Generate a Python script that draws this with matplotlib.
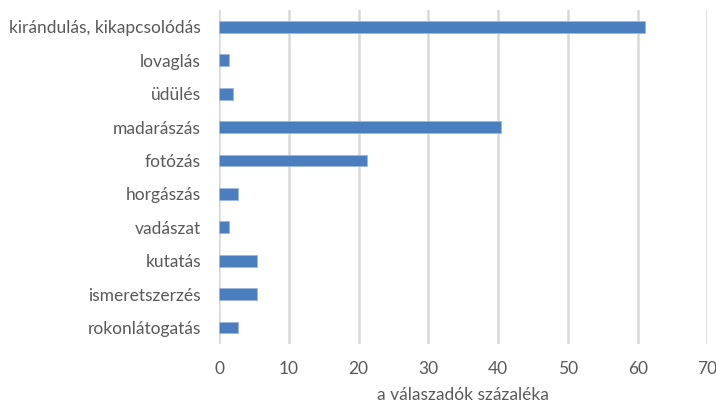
import numpy as np
import matplotlib.pyplot as plt

# Adatok (a válaszadók százaléka)
kategoriak = ['kirándulás, kikapcsolódás', 'lovaglás', 'üdülés', 'madarászás',
              'fotózás', 'horgászás', 'vadászat', 'kutatás', 'ismeretszerzés',
              'rokonlátogatás']
szazalek = [61.0, 1.4, 2.0, 40.4, 21.2, 2.7, 1.4, 5.4, 5.4, 2.7]
xtick_ertekek = [0, 10, 20, 30, 40, 50, 60, 70]

plt.rcParams['font.family'] = ['Lato', 'DejaVu Sans']

fig = plt.figure(figsize=(7.16, 4.05), dpi=100)
ax = fig.add_axes([0.306, 0.150, 0.682, 0.825])

y = np.arange(len(kategoriak))
ax.barh(y, szazalek, height=0.35, color='#4A7EBF', edgecolor='#9DB9DD',
        linewidth=0.6, zorder=3)

ax.set_ylim(len(kategoriak) - 0.5, -0.5)
ax.set_xlim(0, 70)
ax.set_yticks(y)
ax.set_yticklabels(kategoriak)
ax.set_xticks(xtick_ertekek)

ax.grid(axis='x', color='#d9d9d9', linewidth=1.8, zorder=0)
for s in ax.spines.values():
    s.set_visible(False)
ax.tick_params(axis='both', length=0, colors='#595959', labelsize=12.5)
ax.tick_params(axis='y', pad=13)
ax.tick_params(axis='x', pad=12)

ax.set_xlabel('a válaszadók százaléka', fontsize=12.5, color='#595959', labelpad=7)

plt.savefig('out.png', dpi=100)
